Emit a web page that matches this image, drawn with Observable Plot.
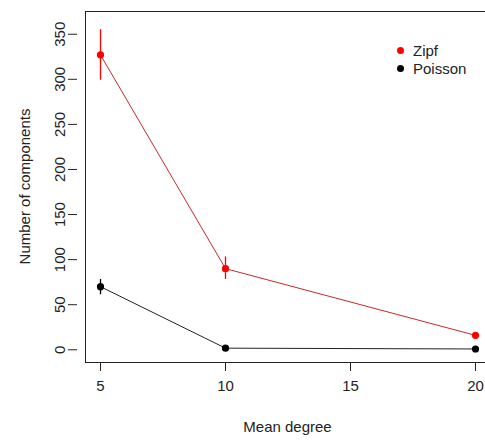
<!DOCTYPE html>
<html>
<head>
<meta charset="utf-8">
<script src="https://cdn.jsdelivr.net/npm/d3@7"></script>
<script src="https://cdn.jsdelivr.net/npm/@observablehq/plot@0.6"></script>
<style>
  html, body { margin: 0; padding: 0; background: #fff; }
  #wrap { position: relative; width: 485px; height: 441px; font-family: "Liberation Sans", Arial, sans-serif; }
  #legend { position: absolute; left: 397px; top: 42px; font-size: 15px; color: #222; line-height: 17.5px; }
  #legend .row { display: flex; align-items: center; }
  #legend .dot { width: 7px; height: 7px; border-radius: 50%; display: inline-block; margin-right: 9px; }
</style>
</head>
<body>
<div id="wrap"><div id="legend"></div></div>
<script>
const degrees = [5, 10, 20];
const zipfMean = [327, 90, 16];
const zipfLow = [299, 78, 13];
const zipfHigh = [355, 103, 19];
const poissonMean = [70, 1.8, 0.9];
const poissonLow = [61, 1, 0.5];
const poissonHigh = [78, 2.6, 1.3];
const seriesNames = ["Zipf", "Poisson"];
const seriesColors = ["#ff0000", "#000000"];
const lineColors = ["#c42a2a", "#222222"];
const xTicks = [5, 10, 15, 20];
const yTicks = [0, 50, 100, 150, 200, 250, 300, 350];

const rows = [];
degrees.forEach((d, i) => {
  rows.push({series: "Zipf", x: d, y: zipfMean[i], lo: zipfLow[i], hi: zipfHigh[i]});
  rows.push({series: "Poisson", x: d, y: poissonMean[i], lo: poissonLow[i], hi: poissonHigh[i]});
});

const xDomain = [4.4, 20.4];
const yDomain = [-14.1, 375.2];

const chart = Plot.plot({
  width: 485,
  height: 441,
  marginLeft: 85,
  marginRight: 0,
  marginTop: 11,
  marginBottom: 79,
  style: {fontFamily: "Liberation Sans, Arial, sans-serif", fontSize: "15px", color: "#222", background: "#fff"},
  x: {domain: xDomain, ticks: xTicks, tickSize: 9, tickPadding: 9, label: null},
  y: {domain: yDomain, ticks: yTicks, tickSize: 9, label: null},
  color: {domain: seriesNames, range: seriesColors},
  marks: [
    Plot.ruleY([yDomain[1]], {stroke: "#222", strokeWidth: 1}),
    Plot.ruleY([yDomain[0]], {stroke: "#222", strokeWidth: 1}),
    Plot.ruleX([xDomain[0]], {stroke: "#222", strokeWidth: 1}),
    Plot.line(rows, {x: "x", y: "y", z: "series", stroke: d => lineColors[seriesNames.indexOf(d.series)], strokeWidth: 1}),
    Plot.ruleX(rows, {x: "x", y1: "lo", y2: "hi", stroke: "series", strokeWidth: 1.3}),
    Plot.dot(rows, {x: "x", y: "y", fill: "series", r: 3.6}),
    Plot.axisX({ticks: xTicks, tickSize: 9, tickPadding: 9, fontSize: 15, label: null}),
    Plot.axisY({ticks: yTicks, tickSize: 9, tickPadding: 4, fontSize: 15, tickRotate: -90, textAnchor: "middle", dx: -8, label: null})
  ]
});

const wrap = document.getElementById("wrap");
wrap.insertBefore(chart, wrap.firstChild);

// axis titles
const svg = d3.select(chart);
svg.append("text").attr("x", 287.5).attr("y", 432).attr("text-anchor", "middle")
  .attr("font-size", 15).attr("fill", "#222").text("Mean degree");
svg.append("text").attr("transform", "translate(30,186.5) rotate(-90)").attr("text-anchor", "middle")
  .attr("font-size", 15).attr("fill", "#222").text("Number of components");

const legend = document.getElementById("legend");
seriesNames.forEach((n, i) => {
  const r = document.createElement("div");
  r.className = "row";
  r.innerHTML = `<span class="dot" style="background:${seriesColors[i]}"></span><span>${n}</span>`;
  legend.appendChild(r);
});
</script>
</body>
</html>
